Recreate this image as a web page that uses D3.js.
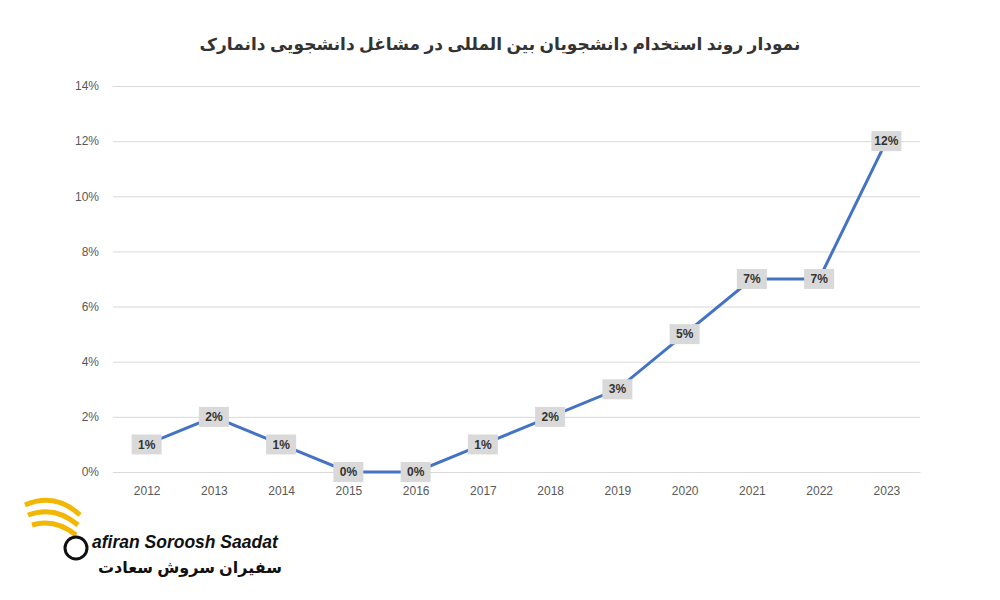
<!DOCTYPE html>
<html><head><meta charset="utf-8">
<script src="https://cdn.jsdelivr.net/npm/d3@7"></script>
<style>body{margin:0;background:#fff}</style></head>
<body><svg id="c" width="1000" height="600"></svg>
<script>
const years = ["2012","2013","2014","2015","2016","2017","2018","2019","2020","2021","2022","2023"];
const values = [1,2,1,0,0,1,2,3,5,7,7,12];
const yTicks = [0,2,4,6,8,10,12,14];
const title = "نمودار روند استخدام دانشجویان بین المللی در مشاغل دانشجویی دانمارک";

const svg = d3.select("#c");
const pL=113, pR=920, pT=86, pB=472;
const x = d3.scalePoint().domain(years).range([pL,pR]).padding(0.5);
const y = d3.scaleLinear().domain([0,14]).range([pB,pT]);

svg.append("text").attr("x",500).attr("y",50).attr("text-anchor","middle")
  .attr("font-family","Noto Sans, DejaVu Sans").attr("font-weight","bold").attr("font-size",17)
  .attr("fill","#333").attr("direction","rtl").text(title);

const ya = svg.append("g").attr("transform",`translate(${pL},0)`)
  .call(d3.axisLeft(y).tickValues(yTicks).tickSize(-(pR-pL)).tickFormat(d=>d+"%"));
ya.select(".domain").remove();
ya.selectAll("line").attr("stroke","#d9d9d9");
ya.selectAll("text").attr("x",-14).attr("fill","#595959").attr("font-size",12).attr("font-family","Liberation Sans, Arial");

const xa = svg.append("g").attr("transform",`translate(0,${pB})`)
  .call(d3.axisBottom(x).tickSize(0).tickPadding(14));
xa.select(".domain").attr("stroke","#d9d9d9");
xa.selectAll("text").attr("fill","#595959").attr("font-size",12).attr("font-family","Liberation Sans, Arial");

svg.append("path").datum(values)
  .attr("d", d3.line().x((d,i)=>x(years[i])).y(d=>y(d)))
  .attr("fill","none").attr("stroke","#4472c4").attr("stroke-width",3);

const lab = svg.append("g").selectAll("g").data(values).join("g")
  .attr("transform",(d,i)=>`translate(${x(years[i])},${y(d)})`);
lab.append("rect").attr("x",-15).attr("y",-10).attr("width",30).attr("height",20).attr("fill","#d9d9d9");
lab.append("text").attr("text-anchor","middle").attr("dy","0.35em")
  .attr("font-family","Liberation Sans, Arial").attr("font-weight","bold").attr("font-size",12)
  .attr("fill","#333").text(d=>d+"%");

svg.append("text").attr("x",92).attr("y",548).attr("font-family","Liberation Sans, Arial")
  .attr("font-style","italic").attr("font-weight","bold").attr("font-size",17.5).attr("fill","#111").text("afiran Soroosh Saadat");
svg.append("text").attr("x",282).attr("y",573).attr("text-anchor","start").attr("direction","rtl")
  .attr("font-family","Noto Sans, DejaVu Sans").attr("font-weight","bold").attr("font-size",16).attr("fill","#111").text("سفیران سروش سعادت");
svg.append("path").attr("d","M25,505 Q55,492 80,515 M28,515 Q55,505 78,525 M32,525 Q55,518 76,535")
  .attr("stroke","#f2b705").attr("stroke-width",5).attr("fill","none");
svg.append("circle").attr("cx",76).attr("cy",548).attr("r",11).attr("fill","none").attr("stroke","#111").attr("stroke-width",3);
</script></body></html>
